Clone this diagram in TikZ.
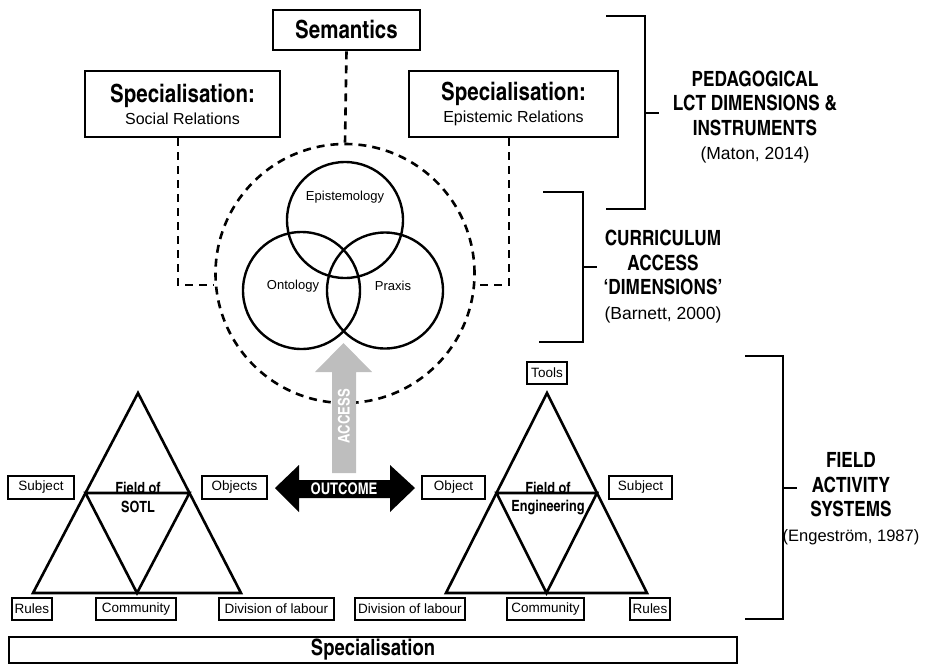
\documentclass[tikz,border=0pt]{standalone}
\usepackage{fontspec}
\setmainfont{Liberation Sans}
\newfontfamily\cnb{texgyreheroscn-bold.otf}
\usetikzlibrary{calc}
\definecolor{accgray}{RGB}{190,190,190}
\newcommand\citefont{\normalfont\fontsize{17.5}{24.5}\selectfont}
\newcommand\citefontb{\normalfont\fontsize{16.5}{24.5}\selectfont}
\newcommand\bigfont{\cnb\fontsize{25}{22}\selectfont}
\newcommand\subfont{\normalfont\fontsize{16}{22}\selectfont}
\begin{document}
\begin{tikzpicture}[x=1pt,y=-1pt,
  lbox/.style={draw, line width=2.2pt, inner sep=0pt, minimum height=23pt, font=\fontsize{13.5}{15}\selectfont},
  bigbox/.style={draw, line width=2.8pt, inner sep=0pt, align=center},
  dashline/.style={line width=2.6pt, dash pattern=on 8pt off 6pt},
  ring/.style={draw, circle, line width=2.4pt, inner sep=0pt},
  tri/.style={line width=2.6pt, line join=miter},
  brk/.style={line width=1.3pt},
  headtxt/.style={align=center, font=\cnb\fontsize{21}{24.5}\selectfont},
  venn/.style={font=\fontsize{13}{15}\selectfont},
  fld/.style={align=center, font=\cnb\fontsize{15.5}{19}\selectfont}
]
\useasboundingbox (0,0) rectangle (938,665);

% top boxes
\node[bigbox, minimum width=147pt, minimum height=40pt, font=\cnb\fontsize{25}{28}\selectfont] (sem) at (346.5,30) {Semantics};
\node[bigbox, minimum width=195pt, minimum height=66pt, font=\subfont] (specL) at (182.5,104)
  {{\bigfont Specialisation:}\\{\subfont Social Relations}};
\node[bigbox, minimum width=209pt, minimum height=66pt, font=\subfont] (specR) at (513.5,104)
  {{\bigfont Specialisation:}\\{\subfont Epistemic Relations}};

% dashed circle
\node[circle, draw, dashline, minimum size=259pt, inner sep=0pt] (dc) at (345,273.5) {};

% dashed connectors
\coordinate (jL) at (178,285);
\coordinate (jR) at (509,285);
\draw[dashline] (sem.south) -- (dc.north);
\draw[dashline] (specL.south -| jL) -- (jL) -- (dc.west |- jL);
\draw[dashline] (specR.south -| jR) -- (jR) -- (dc.east |- jR);

% Venn
\node[ring, minimum size=116pt] (epi) at (345,220) {};
\node[ring, minimum size=117pt] (ont) at (301.5,290.5) {};
\node[ring, minimum size=116pt] (pra) at (385,290.5) {};
\node[venn] (tepi) at (345,197) {Epistemology};
\node[venn] (tont) at (293,286) {Ontology};
\node[venn] (tpra) at (393,286) {Praxis};

% ACCESS arrow
\fill[accgray] (332,473) -- (356,473) -- (356,372) -- (372,372) -- (343.5,343) -- (315,372) -- (332,372) -- cycle;
\node[rotate=90, text=white, font=\cnb\fontsize{16}{18}\selectfont] (acc) at (344,416) {ACCESS};

% OUTCOME arrow
\fill[black] (275,488) -- (299,465) -- (299,480) -- (390,480) -- (390,465) -- (415,488) -- (390,512) -- (390,498) -- (299,498) -- (299,512) -- cycle;
\node[text=white, font=\cnb\fontsize{16}{18}\selectfont] (out) at (344,489) {OUTCOME};

% left triangle
\coordinate (LA) at (138,393);
\coordinate (LL) at (33,593);
\coordinate (LR) at (241,593);
\draw[tri] (LA) -- (LL) -- (LR) -- cycle;
\draw[tri] ($(LA)!0.5!(LL)$) -- ($(LA)!0.5!(LR)$) -- ($(LL)!0.5!(LR)$) -- cycle;
\node[fld] (fl1) at (138,488) {Field of};
\node[fld] (fl2) at (138,507) {SOTL};

% right triangle
\coordinate (RA) at (547,393);
\coordinate (RL) at (446,593);
\coordinate (RR) at (647,593);
\draw[tri] (RA) -- (RL) -- (RR) -- cycle;
\draw[tri] ($(RA)!0.5!(RL)$) -- ($(RA)!0.5!(RR)$) -- ($(RL)!0.5!(RR)$) -- cycle;
\node[fld] (fr1) at (548,488) {Field of};
\node[fld] (fr2) at (548,507) {Engineering};

% left labels
\node[lbox, minimum width=66pt] (subL) at (41,487.5) {Subject};
\node[lbox, minimum width=65pt] (objL) at (234.5,487.5) {Objects};
\node[lbox, minimum width=40pt, minimum height=22pt] (rulL) at (32,609) {Rules};
\node[lbox, minimum width=80pt, minimum height=22pt] (comL) at (136,609) {Community};
\node[lbox, minimum width=115pt, minimum height=22pt] (divL) at (276.5,609) {Division of labour};

% right labels
\node[lbox, minimum width=63pt] (objR) at (453.5,487.5) {Object};
\node[lbox, minimum width=63pt] (subR) at (640.5,487.5) {Subject};
\node[lbox, minimum width=40pt, minimum height=22pt] (tools) at (547,373) {Tools};
\node[lbox, minimum width=110pt, minimum height=22pt] (divR) at (410,609) {Division of labour};
\node[lbox, minimum width=77pt, minimum height=22pt] (comR) at (545.5,609) {Community};
\node[lbox, minimum width=40pt, minimum height=22pt] (rulR) at (650,609) {Rules};

% bottom box
\node[bigbox, minimum width=728pt, minimum height=26pt, font=\cnb\fontsize{22.5}{22}\selectfont] (spec) at (373,650) {Specialisation};

% brackets
\draw[brk] (606,16) -- (645,16) -- (645,209) -- (606,209);
\draw[brk] (645,113) -- (659,113);
\draw[brk] (543,192) -- (583,192) -- (583,342) -- (539,342);
\draw[brk] (583,267) -- (597,267);
\draw[brk] (745,356) -- (783,356) -- (783,619) -- (745,619);
\draw[brk] (783,488) -- (797,488);

% bracket texts
\node[headtxt] (ped) at (755,117) {PEDAGOGICAL\\LCT DIMENSIONS \&\\INSTRUMENTS\\{\citefont (Maton, 2014)}};
\node[headtxt] (cur) at (663,276.5) {CURRICULUM\\ACCESS\\‘DIMENSIONS’\\{\citefont (Barnett, 2000)}};
\node[headtxt] (fas) at (851,498.5) {FIELD\\ACTIVITY\\SYSTEMS\\{\citefontb (Engeström, 1987)}};
\end{tikzpicture}
\end{document}
